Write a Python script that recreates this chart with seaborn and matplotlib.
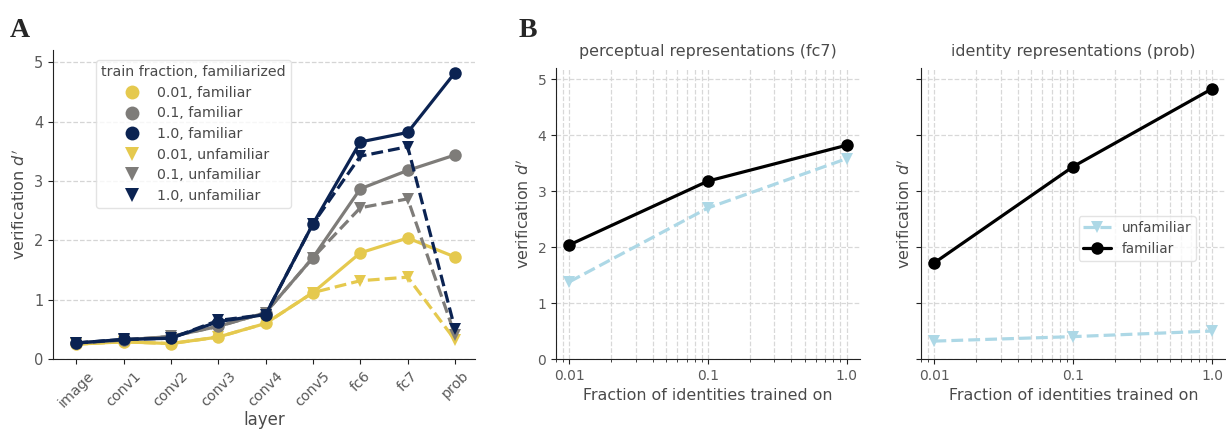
import numpy as np
import pandas as pd
import matplotlib
matplotlib.use("Agg")
import matplotlib.pyplot as plt
from matplotlib.lines import Line2D
import seaborn as sns

# ---------------- data ----------------
layers = ["image", "conv1", "conv2", "conv3", "conv4", "conv5", "fc6", "fc7", "prob"]
fam_001 = [0.25, 0.29, 0.26, 0.37, 0.60, 1.12, 1.79, 2.04, 1.72]
unf_001 = [0.25, 0.29, 0.26, 0.37, 0.60, 1.12, 1.32, 1.38, 0.32]
fam_01 = [0.27, 0.32, 0.38, 0.55, 0.78, 1.71, 2.87, 3.18, 3.44]
unf_01 = [0.27, 0.32, 0.38, 0.55, 0.78, 1.71, 2.55, 2.70, 0.40]
fam_1 = [0.27, 0.33, 0.35, 0.63, 0.75, 2.28, 3.66, 3.82, 4.83]
unf_1 = [0.27, 0.33, 0.35, 0.65, 0.75, 2.28, 3.42, 3.58, 0.50]

fractions = [0.01, 0.1, 1.0]
fc7_fam = [2.04, 3.18, 3.82]
fc7_unf = [1.38, 2.70, 3.58]
prob_fam = [1.72, 3.44, 4.83]
prob_unf = [0.32, 0.40, 0.50]

# ---------------- style ----------------
sns.set_style("ticks")
plt.rcParams["font.family"] = ["DejaVu Sans"]
plt.rcParams["axes.edgecolor"] = "#222222"
plt.rcParams["xtick.color"] = "#222222"
plt.rcParams["ytick.color"] = "#222222"
plt.rcParams["xtick.labelcolor"] = "#5a5a5a"
plt.rcParams["ytick.labelcolor"] = "#5a5a5a"
plt.rcParams["axes.labelcolor"] = "#4a4a4a"

YEL = "#E5C94E"
GRY = "#7E7C79"
NAV = "#0B2352"
LBL = "#ADD8E6"
MS = 9
LW = 2.3

fig = plt.figure(figsize=(12.26, 4.33), dpi=100)
axA = fig.add_axes([0.0432, 0.1709, 0.3442, 0.7136])
axB1 = fig.add_axes([0.4535, 0.1709, 0.2480, 0.672])
axB2 = fig.add_axes([0.7512, 0.1709, 0.2485, 0.672])

# ---------------- panel A ----------------
series = [
    ("0.01, familiar", fam_001, YEL, "-", "o"),
    ("0.1, familiar", fam_01, GRY, "-", "o"),
    ("1.0, familiar", fam_1, NAV, "-", "o"),
    ("0.01, unfamiliar", unf_001, YEL, "--", "v"),
    ("0.1, unfamiliar", unf_01, GRY, "--", "v"),
    ("1.0, unfamiliar", unf_1, NAV, "--", "v"),
]
draw_order = [3, 0, 4, 1, 5, 2]
for i in draw_order:
    lab, vals, col, ls, mk = series[i]
    df = pd.DataFrame({"layer": layers, "d": vals})
    sns.lineplot(data=df, x="layer", y="d", ax=axA, color=col, linestyle=ls,
                 marker=mk, markersize=MS, markeredgewidth=0, linewidth=LW,
                 sort=False, legend=False)

axA.set_xlim(-0.49, 8.42)
axA.set_ylim(0, 5.21)
axA.set_yticks([0, 1, 2, 3, 4, 5])
axA.yaxis.grid(True, linestyle="--", color="#d5d5d5", linewidth=0.9)
axA.set_axisbelow(True)
axA.tick_params(axis="x", labelsize=10.3)
axA.tick_params(axis="y", labelsize=10.5)
for t in axA.get_xticklabels():
    t.set_rotation(45)
    t.set_ha("center")
axA.set_xlabel("layer", fontsize=12, labelpad=1)
axA.set_ylabel(r"verification $d'$", fontsize=11.5)
sns.despine(ax=axA)

handles = [Line2D([], [], color=c, marker=m, linestyle="none", markersize=10,
                  markeredgewidth=0, label=l) for l, _, c, _, m in series]
legA = axA.legend(handles=handles, title="train fraction, familiarized",
                  loc="upper left", bbox_to_anchor=(0.086, 0.99), fontsize=10.2,
                  title_fontsize=10.2, frameon=True, labelspacing=0.47,
                  handletextpad=0.8, borderpad=0.35)
for t in legA.get_texts():
    t.set_color("#4a4a4a")
legA.get_title().set_color("#4a4a4a")
legA.get_frame().set_edgecolor("#dddddd")

# ---------------- panel B ----------------
def panel(ax, fam, unf, title, show_ylabels):
    dfu = pd.DataFrame({"frac": fractions, "d": unf})
    dff = pd.DataFrame({"frac": fractions, "d": fam})
    sns.lineplot(data=dfu, x="frac", y="d", ax=ax, color=LBL, linestyle="--",
                 marker="v", markersize=MS, markeredgewidth=0, linewidth=LW,
                 label="unfamiliar")
    sns.lineplot(data=dff, x="frac", y="d", ax=ax, color="black", linestyle="-",
                 marker="o", markersize=MS, markeredgewidth=0, linewidth=LW,
                 label="familiar")
    ax.set_xscale("log")
    ax.set_xlim(0.0080, 1.25)
    ax.set_ylim(0, 5.2)
    ax.set_yticks([0, 1, 2, 3, 4, 5])
    ax.set_xticks(fractions)
    ax.set_xticklabels(["0.01", "0.1", "1.0"])
    ax.grid(True, which="both", linestyle="--", color="#d8d8d8", linewidth=0.9)
    ax.set_axisbelow(True)
    ax.tick_params(labelsize=10)
    ax.set_xlabel("Fraction of identities trained on", fontsize=11.4)
    ax.set_title(title, fontsize=11.4, color="#4a4a4a", pad=9)
    if show_ylabels:
        ax.set_ylabel(r"verification $d'$", fontsize=11.4)
    else:
        ax.tick_params(axis="y", labelleft=False)
        ax.set_ylabel(r"verification $d'$", fontsize=11.4, labelpad=2)
    sns.despine(ax=ax)

panel(axB1, fc7_fam, fc7_unf, "perceptual representations (fc7)", True)
axB1.get_legend().remove()
panel(axB2, prob_fam, prob_unf, "identity representations (prob)", False)
legB = axB2.legend(loc="upper left", bbox_to_anchor=(0.495, 0.515), fontsize=9.8,
                   frameon=True, handlelength=2.0, labelspacing=0.55,
                   borderpad=0.35)
for t in legB.get_texts():
    t.set_color("#4a4a4a")
legB.get_frame().set_edgecolor("#dddddd")

# panel letters
fig.text(0.008, 0.915, "A", fontsize=20, fontweight="bold", family="Liberation Serif")
fig.text(0.423, 0.915, "B", fontsize=20, fontweight="bold", family="Liberation Serif")

fig.savefig("out.png", dpi=100)
